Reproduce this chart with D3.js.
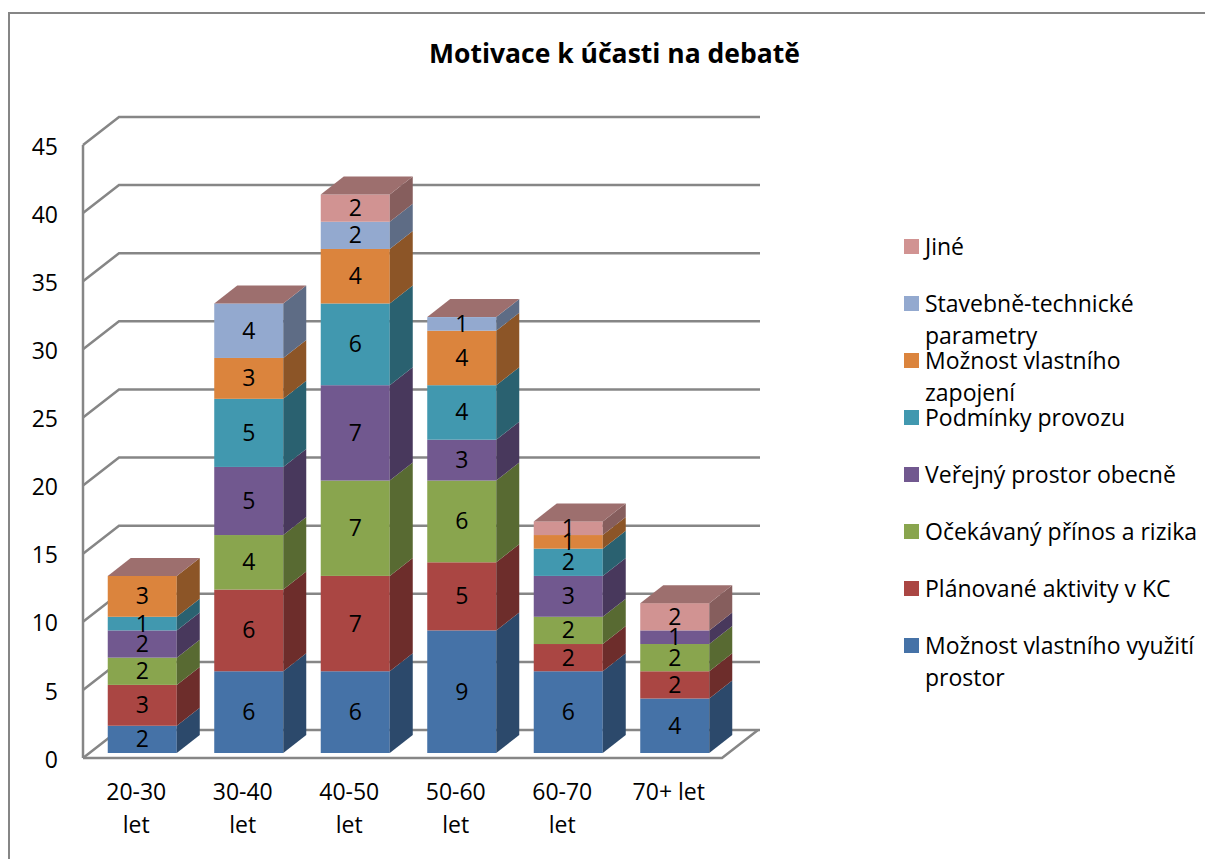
<!DOCTYPE html>
<html>
<head>
<meta charset="utf-8">
<script src="https://cdn.jsdelivr.net/npm/d3@7"></script>
<style>
  html, body { margin: 0; padding: 0; background: #fff; }
  svg { display: block; }
  text { font-family: "Open Sans", Lato, sans-serif; fill: #000; }
</style>
</head>
<body>
<svg id="chart" width="1205" height="859"></svg>
<script>
const title = "Motivace k účasti na debatě"
const categories = ["20-30 let", "30-40 let", "40-50 let", "50-60 let", "60-70 let", "70+ let"]
const seriesNames = [
  "Možnost vlastního využití prostor",
  "Plánované aktivity v KC",
  "Očekávaný přínos a rizika",
  "Veřejný prostor obecně",
  "Podmínky provozu",
  "Možnost vlastního zapojení",
  "Stavebně-technické parametry",
  "Jiné"
]
const colors = ["#4572a7", "#aa4643", "#89a54e", "#71588f", "#4198af", "#db843d", "#93a9cf", "#d19392"]
const vyuziti = [2, 6, 6, 9, 6, 4]
const aktivity = [3, 6, 7, 5, 2, 2]
const prinos = [2, 4, 7, 6, 2, 2]
const verejny = [2, 5, 7, 3, 3, 1]
const provoz = [1, 5, 6, 4, 2, 0]
const zapojeni = [3, 3, 4, 4, 1, 0]
const technicke = [0, 4, 2, 1, 0, 0]
const jine = [0, 0, 2, 0, 1, 2]
const seriesValues = [vyuziti, aktivity, prinos, verejny, provoz, zapojeni, technicke, jine]
const yTicks = d3.range(0, 50, 5)
const legendLines = {
  "Možnost vlastního využití prostor": ["Možnost vlastního využití", "prostor"],
  "Možnost vlastního zapojení": ["Možnost vlastního", "zapojení"],
  "Stavebně-technické parametry": ["Stavebně-technické", "parametry"]
}

const svg = d3.select('#chart')
const gray = '#868686'
const fontSize = 23

// outer frame, runs off the right and bottom of the picture
svg.append('path')
  .attr('d', 'M9,859V13H1205')
  .attr('fill', 'none')
  .attr('stroke', gray)
  .attr('stroke-width', 2)

svg.append('text')
  .attr('x', 614.5)
  .attr('y', 63)
  .attr('text-anchor', 'middle')
  .attr('font-size', 26.5)
  .attr('font-weight', 700)
  .text(title)

// 3d offsets: back wall relative to the front plane, bar depth, bar inset
const wall = {dx: 36, dy: -28}
const depth = {dx: 23, dy: -18}
const inset = {dx: 6, dy: -5}

const y = d3.scaleLinear().domain([0, 45]).range([758, 145])
const xAxisScale = d3.scaleBand().domain(categories).range([83, 722])
const x = d3.scaleBand().domain(categories).range([83 + inset.dx, 722 + inset.dx])
  .paddingInner(0.352).paddingOuter(0.176)

// gridlines on the side and back wall
const grid = svg.append('g').attr('fill', 'none').attr('stroke', gray).attr('stroke-width', 2.5)
grid.selectAll('path')
  .data(yTicks)
  .join('path')
  .attr('d', d => `M${83},${y(d)}L${83 + wall.dx},${y(d) + wall.dy}H${722 + wall.dx + 2}`)
grid.append('path').attr('d', `M83,${y(0)}V${y(45)}`)
grid.append('path').attr('d', `M83,${y(0)}H722l${wall.dx},${wall.dy}`)

const yAxis = d3.axisLeft(y).tickValues(yTicks).tickSize(0).tickPadding(25)
svg.append('g')
  .attr('transform', 'translate(83,0)')
  .call(yAxis)
  .call(g => g.select('.domain').remove())
  .selectAll('text')
  .attr('font-size', fontSize)
  .attr('dy', '0.4em')
  .style('font-family', '"Open Sans", Lato, sans-serif')

const xAxis = d3.axisBottom(xAxisScale).tickSize(0).tickFormat('')
const xg = svg.append('g')
  .attr('transform', `translate(0,${y(0)})`)
  .call(xAxis)
xg.select('.domain').remove()
xg.selectAll('.tick').each(function (d) {
  let parts = d.startsWith('70+') ? [d] : d.split(' ')
  d3.select(this).select('text').remove()
  d3.select(this).selectAll('text')
    .data(parts)
    .join('text')
    .attr('y', (p, i) => 42 + i * 33)
    .attr('text-anchor', 'middle')
    .attr('font-size', fontSize)
    .text(p => p)
})

// stacked bars, bottom segment first so upper ones paint over
const stack = d3.stack().keys(d3.range(seriesNames.length)).value((d, k) => seriesValues[k][d])
const layers = stack(d3.range(categories.length))
const barY = v => y(v) + inset.dy

const bars = svg.append('g')
layers.forEach((layer, k) => {
  const col = colors[k]
  layer.forEach((seg, i) => {
    const x0 = x(categories[i])
    const x1 = x0 + x.bandwidth()
    const yLo = barY(seg[0])
    const yHi = barY(seg[1])
    if (seg[1] > seg[0]) {
      bars.append('rect')
        .attr('x', x0)
        .attr('y', yHi)
        .attr('width', x1 - x0)
        .attr('height', yLo - yHi)
        .attr('fill', col)
      bars.append('path')
        .attr('d', `M${x1},${yLo}V${yHi}l${depth.dx},${depth.dy}V${yLo + depth.dy}Z`)
        .attr('fill', d3.rgb(col).darker(1.25))
    }
    // the last series closes the bar, even when its value is 0
    if (k == seriesNames.length - 1) {
      bars.append('path')
        .attr('d', `M${x0},${yHi}H${x1}l${depth.dx},${depth.dy}H${x0 + depth.dx}Z`)
        .attr('fill', d3.rgb(col).darker(0.8))
    }
  })
})

// value labels go above all bars
const labels = svg.append('g')
layers.forEach((layer, k) => {
  layer.forEach((seg, i) => {
    if (seg[1] == seg[0])
      return;
    labels.append('text')
      .attr('x', x(categories[i]) + x.bandwidth() / 2)
      .attr('y', (barY(seg[0]) + barY(seg[1])) / 2)
      .attr('dy', '0.35em')
      .attr('text-anchor', 'middle')
      .attr('font-size', fontSize)
      .text(seriesValues[k][i])
  })
})

// legend, top entry is the last series
const legendOrder = seriesNames.map((n, k) => k).reverse()
const legendY = d3.scalePoint().domain(legendOrder).range([247, 646])
const legend = svg.append('g')
legendOrder.forEach(k => {
  const name = seriesNames[k]
  const cy = legendY(k)
  legend.append('rect')
    .attr('x', 904)
    .attr('y', cy - 8)
    .attr('width', 15)
    .attr('height', 15)
    .attr('fill', colors[k])
  const lines = legendLines[name] || [name]
  lines.forEach((line, i) => {
    legend.append('text')
      .attr('x', 925)
      .attr('y', cy + 8 + i * 32)
      .attr('font-size', fontSize)
      .text(line)
  })
})
</script>
</body>
</html>
